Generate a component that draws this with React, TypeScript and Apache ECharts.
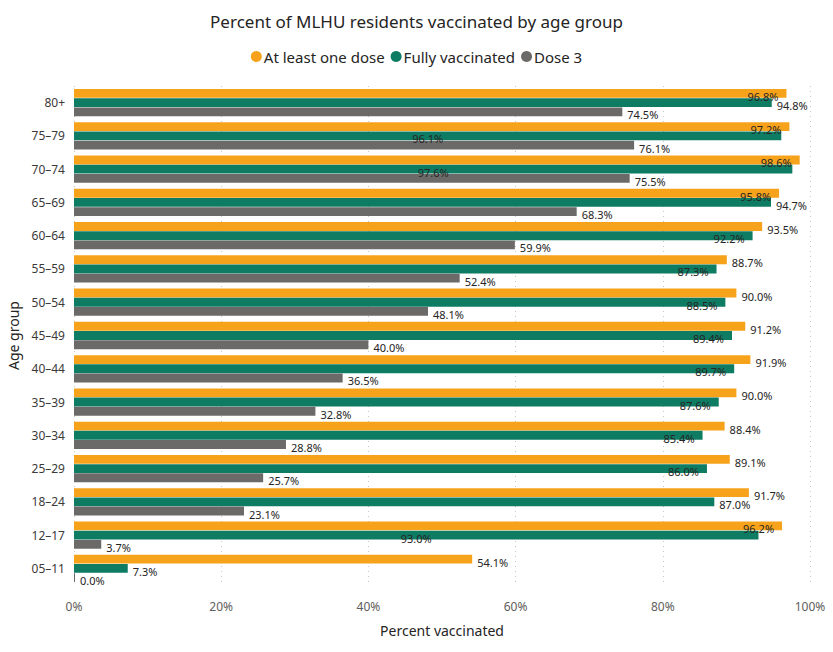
import React, { useEffect, useRef } from "react";
import * as echarts from "echarts";

const categories = ["80+", "75–79", "70–74", "65–69", "60–64", "55–59", "50–54", "45–49", "40–44", "35–39", "30–34", "25–29", "18–24", "12–17", "05–11"];
const atLeastOne = [96.8, 97.2, 98.6, 95.8, 93.5, 88.7, 90.0, 91.2, 91.9, 90.0, 88.4, 89.1, 91.7, 96.2, 54.1];
const fully = [94.8, 96.1, 97.6, 94.7, 92.2, 87.3, 88.5, 89.4, 89.7, 87.6, 85.4, 86.0, 87.0, 93.0, 7.3];
const dose3 = [74.5, 76.1, 75.5, 68.3, 59.9, 52.4, 48.1, 40.0, 36.5, 32.8, 28.8, 25.7, 23.1, 3.7, 0.0];
const xTicks = [0, 20, 40, 60, 80, 100];

// label placement per point, as in the reference: out = right of bar, in = inside end, mid = centre
const atLeastOnePos = ["in", "in", "in", "in", "out", "out", "out", "out", "out", "out", "out", "out", "out", "in", "out"];
const fullyPos = ["out", "mid", "mid", "out", "in", "in", "in", "in", "in", "in", "in", "in", "out", "mid", "out"];
const dose3Pos = dose3.map(() => "out");

const FONT = "'Noto Sans', 'Open Sans', sans-serif";
const TEXT = "#252423";

function labelFor(pos: string) {
  if (pos === "in") return { show: true, position: "insideRight", distance: 8, offset: [0, 3] };
  if (pos === "mid") return { show: true, position: "inside", offset: [0, 3] };
  return { show: true, position: "right", distance: 5, offset: [0, 3] };
}

function buildData(values: number[], pos: string[]) {
  return values.map((v, i) => ({ value: v, label: labelFor(pos[i]) }));
}

export default function App() {
  const ref = useRef<HTMLDivElement>(null);
  useEffect(() => {
    if (!ref.current) return;
    const chart = echarts.init(ref.current, undefined, { renderer: "svg" });
    const baseLabel = {
      show: true,
      color: TEXT,
      fontSize: 11,
      fontFamily: FONT,
      formatter: (p: any) => Number(p.value).toFixed(1) + "%",
    };
    chart.setOption({
      animation: false,
      backgroundColor: "#ffffff",
      title: {
        text: "Percent of MLHU residents vaccinated by age group",
        left: "center",
        top: 8,
        textStyle: { fontFamily: FONT, fontSize: 17, fontWeight: "normal", color: TEXT },
      },
      legend: {
        top: 44,
        left: "center",
        icon: "circle",
        itemWidth: 11,
        itemHeight: 11,
        itemGap: 6,
        textStyle: { fontFamily: FONT, fontSize: 15, color: TEXT, padding: [0, 0, 0, -3] },
        data: ["At least one dose", "Fully vaccinated", "Dose 3"],
      },
      grid: { left: 74, right: 23, top: 86, bottom: 67, containLabel: false, outerBoundsMode: "none" },
      xAxis: {
        type: "value",
        min: xTicks[0],
        max: xTicks[xTicks.length - 1],
        interval: xTicks[1] - xTicks[0],
        name: "Percent vaccinated",
        nameLocation: "middle",
        nameGap: 38,
        nameTextStyle: { fontFamily: FONT, fontSize: 14, color: TEXT },
        axisLine: { show: false },
        axisTick: { show: false },
        axisLabel: { formatter: "{value}%", fontFamily: FONT, fontSize: 12, color: "#605E5C", margin: 15 },
        splitLine: { show: true, lineStyle: { type: [1, 4], color: "#C8C6C4", width: 1 } },
      },
      yAxis: {
        type: "category",
        data: categories,
        inverse: true,
        name: "Age group",
        nameLocation: "middle",
        nameGap: 53,
        nameRotate: 90,
        nameTextStyle: { fontFamily: FONT, fontSize: 14, color: TEXT },
        axisLine: { show: false },
        axisTick: { show: false },
        axisLabel: { fontFamily: FONT, fontSize: 12, color: "#3B3A39", margin: 9 },
        splitLine: { show: false },
      },
      series: [
        {
          name: "At least one dose",
          type: "bar",
          data: buildData(atLeastOne, atLeastOnePos),
          itemStyle: { color: "#F7A21B" },
          label: baseLabel,
          barGap: "4%",
          barCategoryGap: "18%",
        },
        {
          name: "Fully vaccinated",
          type: "bar",
          data: buildData(fully, fullyPos),
          itemStyle: { color: "#0E7B63" },
          label: baseLabel,
          barGap: "4%",
          barCategoryGap: "18%",
        },
        {
          name: "Dose 3",
          type: "bar",
          data: buildData(dose3, dose3Pos),
          itemStyle: { color: "#6B6A69" },
          label: baseLabel,
          barGap: "4%",
          barCategoryGap: "18%",
          barMinHeight: 1,
        },
      ],
    });
    return () => chart.dispose();
  }, []);
  return <div ref={ref} style={{ position: "absolute", left: 0, top: 0, width: 833, height: 652 }} />;
}
